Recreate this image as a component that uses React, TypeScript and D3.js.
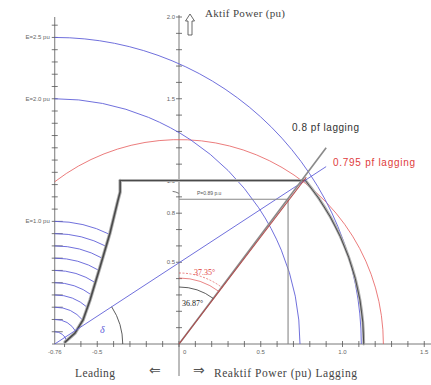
import { useEffect, useRef } from "react";
import * as d3 from "d3";

const W = 431;
const H = 385;

// field (E) circles: centre at -1/Xs on the Q axis, radius grows with E
const eCenterQ = -0.76;
const ePerPu = 0.75;
const bigE = [2.5, 2.0];
const bigELabels = ["E=2.5 pu", "E=2.0 pu"];
const smallE = [1.0, 0.9, 0.8, 0.7, 0.6, 0.5, 0.4, 0.3, 0.2, 0.1];
const smallELabel = "E=1.0 pu";

// red circle round the origin
const redRadius = 1.25;

// right-hand limit arc (centre Q, radius) and turbine limit
const limitArc = { q: -0.45, r: 1.58 };
const pLimit = 1.0;

// practical stability limit, [Q, P]
const stability: [number, number][] = [
  [-0.36, 1.0], [-0.36, 0.93], [-0.373, 0.88], [-0.422, 0.679], [-0.483, 0.471],
  [-0.544, 0.269], [-0.587, 0.147], [-0.636, 0.067], [-0.697, 0.012],
];

// power factor lines
const pfLines = [
  { pf: 0.8, label: "0.8 pf lagging", pEnd: 1.2, angle: "36.87°" },
  { pf: 0.795, label: "0.795 pf lagging", pEnd: 1.02, angle: "37.35°" },
];

const opPoint: [number, number] = [0.667, 0.885];
const opLabel = "P=0.89 p.u";
const eLineEnd: [number, number] = [0.9, 1.085];

const xTickLabels = [
  { v: -0.76, t: "-0.76" }, { v: -0.5, t: "-0.5" }, { v: 0, t: "0" },
  { v: 0.5, t: "0.5" }, { v: 1.0, t: "1.0" }, { v: 1.5, t: "1.5" },
];
const yTickLabels = [0.5, 0.8, 1.0, 1.5, 2.0];

function arcPath(cx: number, cy: number, r: number, a0: number, a1: number) {
  const p = d3.path();
  p.arc(cx, cy, r, a0, a1);
  return p.toString();
}

export default function App() {
  const ref = useRef<HTMLDivElement>(null);

  useEffect(() => {
    const svg = d3.select(ref.current)
      .append("svg")
        .attr("width", W)
        .attr("height", H)
        .style("display", "block")
        .style("background", "white");

    const x = d3.scaleLinear().domain([0, 1]).range([179, 342.5]);
    const y = d3.scaleLinear().domain([0, 1]).range([344, 180.5]);
    const k = x(1) - x(0);
    const ox = x(0), oy = y(0);
    const ecx = x(eCenterQ);

    const axisColor = "#555";
    const blue = "#6060d8";
    const labelFont = "'Liberation Sans', Arial, sans-serif";
    const serif = "'Liberation Serif', 'Times New Roman', serif";

    // ---- axes
    const ax = svg.append("g").attr("stroke", axisColor).attr("stroke-width", 0.8);
    ax.append("line").attr("x1", 52).attr("x2", W).attr("y1", oy).attr("y2", oy);
    ax.append("line").attr("x1", ox).attr("x2", ox).attr("y1", 15).attr("y2", 376);
    ax.append("line").attr("x1", ecx).attr("x2", ecx).attr("y1", 17).attr("y2", oy);

    const xt = d3.range(-7, 16).map((d) => d / 10);
    ax.selectAll(".xt").data(xt).enter().append("line")
      .attr("x1", (d) => x(d)).attr("x2", (d) => x(d))
      .attr("y1", oy - 3).attr("y2", oy + 3);
    const yt = d3.range(1, 21).map((d) => d / 10);
    ax.selectAll(".yt").data(yt).enter().append("line")
      .attr("x1", ox - 3).attr("x2", ox + 3)
      .attr("y1", (d) => y(d)).attr("y2", (d) => y(d));
    const lt = d3.range(1, 27).map((d) => d / 10);
    ax.selectAll(".lt").data(lt).enter().append("line")
      .attr("x1", ecx - 3).attr("x2", (d) => ecx + (d <= 1.0 ? 8 : 3))
      .attr("y1", (d) => oy - d * ePerPu * k).attr("y2", (d) => oy - d * ePerPu * k);

    const tl = svg.append("g").attr("font-family", labelFont).attr("font-size", 6).attr("fill", "#666");
    tl.selectAll(".xl").data(xTickLabels).enter().append("text")
      .attr("x", (d) => x(d.v) + (d.v === 0 ? 4 : 0)).attr("y", oy + 10)
      .attr("text-anchor", (d) => (d.v === 0 ? "start" : "middle"))
      .text((d) => d.t);
    tl.selectAll(".yl").data(yTickLabels).enter().append("text")
      .attr("x", ox - 4).attr("y", (d) => y(d) + 2)
      .attr("text-anchor", "end")
      .text((d) => d.toFixed(1));
    tl.selectAll(".el").data(bigE).enter().append("text")
      .attr("x", ecx - 5).attr("y", (d) => oy - d * ePerPu * k + 2)
      .attr("text-anchor", "end")
      .text((d, i) => bigELabels[i]);
    tl.append("text")
      .attr("x", ecx - 5).attr("y", oy - 1.0 * ePerPu * k + 2)
      .attr("text-anchor", "end").text(smallELabel);

    // ---- red circle
    const rr = redRadius * k;
    svg.append("path")
      .attr("d", arcPath(ox, oy, rr, -Math.acos((ecx - ox) / rr), 0))
      .attr("fill", "none").attr("stroke", "#e65a5a").attr("stroke-width", 0.8);

    // ---- big E circles
    svg.selectAll(".bigE").data(bigE).enter().append("path")
      .attr("d", (d) => arcPath(ecx, oy, d * ePerPu * k, -Math.PI / 2, 0))
      .attr("fill", "none").attr("stroke", blue).attr("stroke-width", 0.9);

    // ---- small E arcs, ending at the stability curve
    const stabPx = stability.map(([q, p]) => [x(q), y(p)] as [number, number]);
    const endAngle = (r: number) => {
      for (let i = 0; i < stabPx.length - 1; i++) {
        const [x0, y0] = stabPx[i];
        const [x1, y1] = stabPx[i + 1];
        const d0 = Math.hypot(x0 - ecx, y0 - oy);
        const d1 = Math.hypot(x1 - ecx, y1 - oy);
        if ((d0 - r) * (d1 - r) <= 0) {
          const t = (d0 - r) / (d0 - d1);
          const px = x0 + t * (x1 - x0);
          const py = y0 + t * (y1 - y0);
          return Math.atan2(py - oy, px - ecx);
        }
      }
      return 0;
    };
    svg.selectAll(".smallE").data(smallE).enter().append("path")
      .attr("d", (d) => {
        const r = d * ePerPu * k;
        return arcPath(ecx, oy, r, -Math.PI / 2, endAngle(r));
      })
      .attr("fill", "none").attr("stroke", blue).attr("stroke-width", 0.9);

    // ---- capability boundary
    const line = d3.line<[number, number]>().x((d) => x(d[0])).y((d) => y(d[1]));
    const qTop = limitArc.q + Math.sqrt(limitArc.r * limitArc.r - pLimit * pLimit);
    const lr = limitArc.r * k;
    const lcx = x(limitArc.q);
    const aTop = Math.atan2(y(pLimit) - oy, x(qTop) - lcx);
    const boundary = svg.append("g").attr("fill", "none").attr("stroke-linecap", "round");
    [{ c: "#b0b0b0", w: 2.8 }, { c: "#4a4a4a", w: 1.0 }].forEach((s) => {
      boundary.append("path").attr("d", line(stability))
        .attr("stroke", s.c).attr("stroke-width", s.w + 0.6);
      boundary.append("path").attr("d", line([[stability[0][0], pLimit], [qTop, pLimit]]))
        .attr("stroke", s.c).attr("stroke-width", s.w);
      boundary.append("path").attr("d", arcPath(lcx, oy, lr, aTop, 0))
        .attr("stroke", s.c).attr("stroke-width", s.w);
    });

    // ---- E phasor line and delta
    svg.append("path").attr("d", line([[eCenterQ, 0], eLineEnd]))
      .attr("stroke", blue).attr("stroke-width", 0.9).attr("fill", "none");
    const delta = Math.atan2(y(eLineEnd[1]) - oy, x(eLineEnd[0]) - ecx);
    svg.append("path").attr("d", arcPath(ecx, oy, 68, delta, 0))
      .attr("stroke", "#333").attr("stroke-width", 0.8).attr("fill", "none");
    svg.append("text").attr("x", 100).attr("y", 333)
      .attr("font-family", serif).attr("font-style", "italic").attr("font-size", 10)
      .attr("fill", blue).text("δ");

    // ---- operating point lines
    const opg = svg.append("g").attr("stroke", "#888").attr("stroke-width", 1.1).attr("fill", "none");
    opg.append("path").attr("d", line([[0, opPoint[1]], opPoint, [opPoint[0], 0]]));
    svg.append("text").attr("x", 197).attr("y", 195)
      .attr("font-family", labelFont).attr("font-size", 5).attr("fill", "#555").text(opLabel);
    svg.append("path")
      .attr("d", arcPath(ox - 8, y(opPoint[1]) + 8, 16, -Math.PI / 2 + 0.1, -Math.PI / 2 + 0.51))
      .attr("stroke", "#555").attr("stroke-width", 0.8).attr("fill", "none");

    // ---- pf lines
    const pfColors = ["#8a8a8a", "#b24a4a"];
    pfLines.forEach((d, i) => {
      const phi = Math.acos(d.pf);
      svg.append("path").attr("d", line([[0, 0], [d.pEnd * Math.tan(phi), d.pEnd]]))
        .attr("stroke", pfColors[i]).attr("stroke-width", i === 0 ? 1.6 : 1.1).attr("fill", "none");
    });
    svg.append("text").attr("x", 292).attr("y", 131)
      .attr("font-family", labelFont).attr("font-size", 10).attr("fill", "#333")
      .attr("textLength", 67).text(pfLines[0].label);
    svg.append("text").attr("x", 333).attr("y", 166)
      .attr("font-family", labelFont).attr("font-size", 10).attr("fill", "#e03c3c")
      .attr("textLength", 82).text(pfLines[1].label);

    // angle arcs
    const phi0 = Math.acos(pfLines[0].pf);
    const phi1 = Math.acos(pfLines[1].pf);
    svg.append("path").attr("d", arcPath(ox, oy, 57, -Math.PI / 2, -Math.PI / 2 + phi0))
      .attr("stroke", "#333").attr("stroke-width", 0.8).attr("fill", "none");
    [66, 71].forEach((r, j) => {
      svg.append("path").attr("d", arcPath(ox, oy, r, -Math.PI / 2, -Math.PI / 2 + phi1))
        .attr("stroke", "#e05050").attr("stroke-width", 0.7).attr("fill", "none")
        .attr("stroke-dasharray", j === 0 ? null : "2,1.5");
    });
    svg.append("text").attr("x", 182).attr("y", 306)
      .attr("font-family", serif).attr("font-size", 8).attr("fill", "#222").text(pfLines[0].angle);
    svg.append("text").attr("x", 194).attr("y", 275)
      .attr("font-family", serif).attr("font-size", 8).attr("fill", "#e03c3c").text(pfLines[1].angle);

    // ---- titles and arrows
    svg.append("text").attr("x", 205).attr("y", 17)
      .attr("font-family", serif).attr("font-size", 11).attr("fill", "#444")
      .attr("textLength", 80).text("Aktif Power (pu)");
    svg.append("path")
      .attr("d", "M190,14 L194.5,21 L192,21 L192,35 L188,35 L188,21 L185.5,21 Z")
      .attr("fill", "none").attr("stroke", "#444").attr("stroke-width", 0.8);
    svg.append("text").attr("x", 75).attr("y", 377)
      .attr("font-family", serif).attr("font-size", 11.5).attr("fill", "#444")
      .attr("textLength", 40).text("Leading");
    svg.append("text").attr("x", 214).attr("y", 377)
      .attr("font-family", serif).attr("font-size", 11.5).attr("fill", "#444")
      .attr("textLength", 143).text("Reaktif Power (pu) Lagging");
    svg.append("text").attr("x", 149).attr("y", 375)
      .attr("font-family", "'DejaVu Sans'").attr("font-size", 14).attr("fill", "#555").text("⇐");
    svg.append("text").attr("x", 193).attr("y", 375)
      .attr("font-family", "'DejaVu Sans'").attr("font-size", 14).attr("fill", "#555").text("⇒");

    return () => {
      d3.select(ref.current).selectAll("*").remove();
    };
  }, [ref]);

  return <div ref={ref} style={{ position: "absolute", left: 0, top: 0 }} />;
}
